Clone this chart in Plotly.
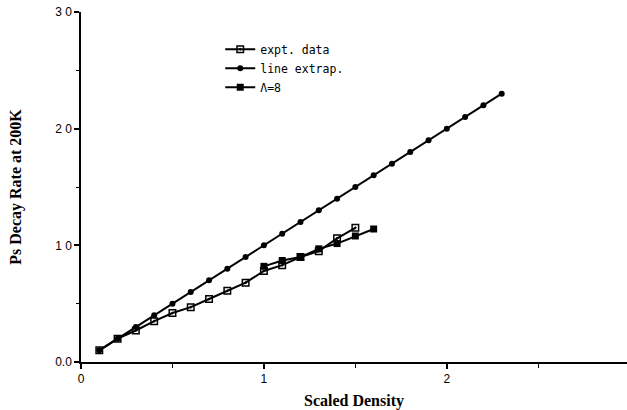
import plotly.graph_objects as go

x_expt = [0.1, 0.2, 0.3, 0.4, 0.5, 0.6, 0.7, 0.8, 0.9, 1.0, 1.1, 1.2, 1.3, 1.4, 1.5]
y_expt = [1.0, 2.0, 2.7, 3.5, 4.2, 4.7, 5.4, 6.1, 6.8, 7.8, 8.3, 9.0, 9.5, 10.6, 11.5]

x_extrap = [0.1, 0.2, 0.3, 0.4, 0.5, 0.6, 0.7, 0.8, 0.9, 1.0, 1.1, 1.2,
            1.3, 1.4, 1.5, 1.6, 1.7, 1.8, 1.9, 2.0, 2.1, 2.2, 2.3]
y_extrap = [1.0, 2.0, 3.0, 4.0, 5.0, 6.0, 7.0, 8.0, 9.0, 10.0, 11.0, 12.0,
            13.0, 14.0, 15.0, 16.0, 17.0, 18.0, 19.0, 20.0, 21.0, 22.0, 23.0]

x_lam8 = [1.0, 1.1, 1.2, 1.3, 1.4, 1.5, 1.6]
y_lam8 = [8.2, 8.7, 9.0, 9.7, 10.15, 10.8, 11.4]

y_tickvals = [0, 10, 20, 30]
y_ticktext = ["0.0", "1 0", "2 0", "3 0"]
x_tickvals = [0, 1, 2]
x_ticktext = ["0", "1", "2"]

fig = go.Figure()
fig.add_trace(go.Scatter(x=x_expt, y=y_expt, mode="lines+markers", name="expt. data",
                         line=dict(color="black", width=2),
                         marker=dict(symbol="square-open-dot", size=6.5, color="black",
                                     line=dict(width=1.5, color="black"))))
fig.add_trace(go.Scatter(x=x_extrap, y=y_extrap, mode="lines+markers", name="line extrap.",
                         line=dict(color="black", width=2),
                         marker=dict(symbol="circle", size=6, color="black")))
fig.add_trace(go.Scatter(x=x_lam8, y=y_lam8, mode="lines+markers", name="Λ=8",
                         line=dict(color="black", width=2),
                         marker=dict(symbol="square", size=7, color="black")))

fig.update_layout(
    width=627, height=410,
    margin=dict(l=81, r=0, t=12, b=48),
    plot_bgcolor="white", paper_bgcolor="white",
    showlegend=True,
    legend=dict(x=0.255, y=0.935, xanchor="left", yanchor="top",
                font=dict(family="DejaVu Sans Mono", size=11.5, color="black"),
                bgcolor="rgba(0,0,0,0)", tracegroupgap=0, itemwidth=30),
    font=dict(family="Liberation Sans", size=12, color="black"),
)
fig.update_xaxes(range=[0, 2.985], showgrid=False, zeroline=False,
                 showline=True, linecolor="black", linewidth=1.5,
                 ticks="outside", ticklen=5, tickwidth=1.5, tickcolor="black",
                 tickvals=x_tickvals, ticktext=x_ticktext,
                 minor=dict(tickvals=[0.5, 1.5, 2.5], ticks="outside", ticklen=4,
                            tickwidth=1.2, tickcolor="black"),
                 title=dict(text="<b>Scaled Density</b>",
                            font=dict(family="Liberation Serif", size=16, color="black"),
                            standoff=14),
                 tickfont=dict(family="Liberation Sans", size=12))
fig.update_yaxes(range=[0, 30], showgrid=False, zeroline=False,
                 showline=True, linecolor="black", linewidth=1.5,
                 ticks="outside", ticklen=5, tickwidth=1.5, tickcolor="black",
                 tickvals=y_tickvals, ticktext=y_ticktext,
                 minor=dict(tickvals=[5, 15, 25], ticks="outside", ticklen=3,
                            tickwidth=1.2, tickcolor="black"),
                 title=dict(text="<b>Ps Decay Rate at 200K</b>",
                            font=dict(family="Liberation Serif", size=16, color="black"),
                            standoff=30),
                 tickfont=dict(family="Liberation Sans", size=12))

fig.write_html("out.html")
